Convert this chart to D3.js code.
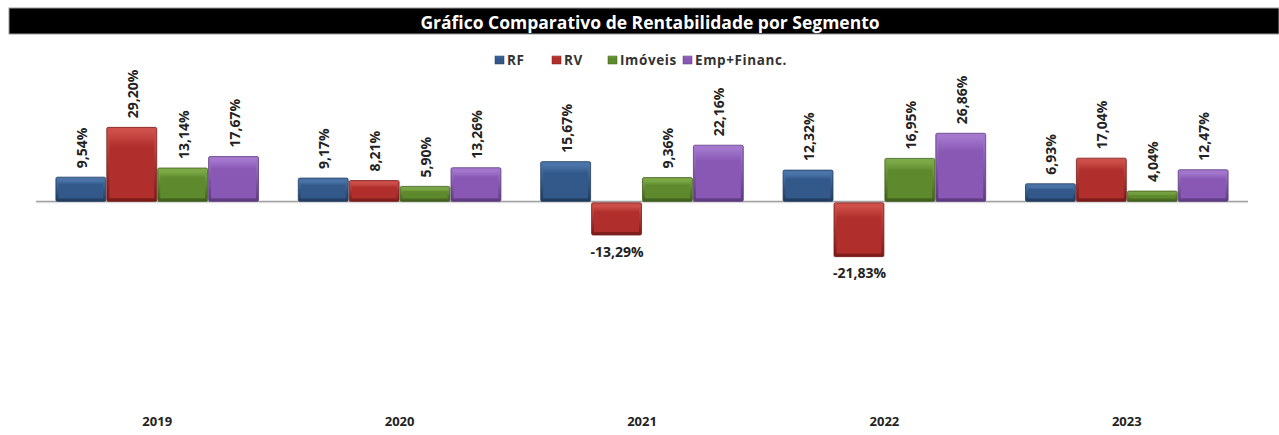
<!DOCTYPE html>
<html>
<head>
<meta charset="utf-8">
<script src="https://cdn.jsdelivr.net/npm/d3@7"></script>
<style>
  body { margin: 0; background: #fff; }
  svg { display: block; font-family: "Open Sans", "DejaVu Sans", sans-serif; }
</style>
</head>
<body>
<div id="chart"></div>
<script>
'use strict';

const title = 'Gráfico Comparativo de Rentabilidade por Segmento';
const years = ['2019', '2020', '2021', '2022', '2023'];
const series = ['RF', 'RV', 'Imóveis', 'Emp+Financ.'];
const rf = [9.54, 9.17, 15.67, 12.32, 6.93];
const rv = [29.20, 8.21, -13.29, -21.83, 17.04];
const imoveis = [13.14, 5.90, 9.36, 16.95, 4.04];
const emp = [17.67, 13.26, 22.16, 26.86, 12.47];
const values = [rf, rv, imoveis, emp];

const colors = [
    { base: '#33598a', light: '#4d78ad', dark: '#1f3b5e' },
    { base: '#b02e2c', light: '#d0524c', dark: '#7a1a19' },
    { base: '#5e8a2d', light: '#80ad4a', dark: '#3e5e1a' },
    { base: '#8858b4', light: '#a67ad0', dark: '#5d3a80' }
];

const dim = {
    width: 1279,
    height: 435,
    left: 36,
    right: 1248,
    top: 100,
    bottom: 404
};

let svg = d3.select('#chart')
    .append('svg')
    .attr('width', dim.width)
    .attr('height', dim.height);

let defs = svg.append('defs');
colors.forEach(function(c, i) {
    let g = defs.append('linearGradient')
        .attr('id', 'grad' + i)
        .attr('x1', 0).attr('y1', 0).attr('x2', 0).attr('y2', 1);
    g.append('stop').attr('offset', '0%').attr('stop-color', c.light);
    g.append('stop').attr('offset', '25%').attr('stop-color', c.base);
    g.append('stop').attr('offset', '100%').attr('stop-color', c.base);
    let h = defs.append('linearGradient')
        .attr('id', 'edge' + i)
        .attr('x1', 0).attr('y1', 0).attr('x2', 0).attr('y2', 1);
    h.append('stop').attr('offset', '0%').attr('stop-color', c.light);
    h.append('stop').attr('offset', '100%').attr('stop-color', c.dark);
});

// Title bar
svg.append('rect')
    .attr('x', 9).attr('y', 8)
    .attr('width', dim.width - 9).attr('height', 26)
    .attr('fill', '#000')
    .attr('stroke', '#999')
    .attr('stroke-width', 1);

svg.append('text')
    .attr('x', 650).attr('y', 22)
    .attr('text-anchor', 'middle')
    .attr('dominant-baseline', 'central')
    .attr('fill', '#fff')
    .attr('font-size', 17.5)
    .attr('font-weight', 'bold')
    .text(title);

// Legend
const legendX = [495, 552, 608, 683];
let legend = svg.append('g').attr('class', 'legend');
series.forEach(function(s, i) {
    legend.append('rect')
        .attr('x', legendX[i]).attr('y', 56)
        .attr('width', 9).attr('height', 8)
        .attr('fill', 'url(#grad' + i + ')')
        .attr('stroke', colors[i].dark)
        .attr('stroke-width', 0.5);
    legend.append('text')
        .attr('x', legendX[i] + 12).attr('y', 60)
        .attr('dominant-baseline', 'central')
        .attr('font-size', 13.5)
        .attr('font-weight', 'bold')
        .attr('letter-spacing', 0.6)
        .attr('fill', '#333')
        .text(s);
});

const xScale = d3.scaleBand()
    .range([dim.left, dim.right])
    .domain(years)
    .paddingInner(0.16)
    .paddingOuter(0.08);

const xInner = d3.scaleBand()
    .range([0, xScale.bandwidth()])
    .domain(series)
    .padding(0);

const yScale = d3.scaleLinear()
    .range([dim.bottom, dim.top])
    .domain([-80, 40]);

// Axis line
svg.append('line')
    .attr('x1', dim.left).attr('x2', dim.right)
    .attr('y1', yScale(0) + 1).attr('y2', yScale(0) + 1)
    .attr('stroke', '#ddd')
    .attr('stroke-width', 2);
svg.append('line')
    .attr('x1', dim.left).attr('x2', dim.right)
    .attr('y1', yScale(0)).attr('y2', yScale(0))
    .attr('stroke', '#a0a0a0')
    .attr('stroke-width', 1.3);

// Flatten data
let dataset = [];
years.forEach(function(yr, j) {
    series.forEach(function(s, i) {
        dataset.push({ year: yr, name: s, idx: i, value: values[i][j] });
    });
});

let bars = svg.selectAll('.bar')
    .data(dataset)
    .enter()
    .append('g')
    .attr('class', 'bar')
    .attr('transform', (d) => 'translate(' + (xScale(d.year) + xInner(d.name)) + ',0)');

const bw = xInner.bandwidth() - 1;
const barTop = (d) => Math.min(yScale(d.value), yScale(0) + 1.5);
const barHgt = (d) => d.value >= 0 ? yScale(0) - yScale(d.value) : yScale(d.value) - yScale(0) - 1.5;

// outer bevel
bars.append('rect')
    .attr('x', 0.5)
    .attr('y', barTop)
    .attr('width', bw)
    .attr('height', barHgt)
    .attr('rx', 1.5)
    .attr('fill', (d) => 'url(#edge' + d.idx + ')')
    .attr('stroke', (d) => colors[d.idx].dark)
    .attr('stroke-width', 0.8);

// inner face
bars.append('rect')
    .attr('x', 3)
    .attr('y', (d) => barTop(d) + 3)
    .attr('width', bw - 5)
    .attr('height', (d) => Math.max(0, barHgt(d) - 6))
    .attr('fill', (d) => 'url(#grad' + d.idx + ')');

// value labels
bars.filter((d) => d.value >= 0)
    .append('text')
    .attr('transform', (d) => 'translate(' + (bw / 2 + 1) + ',' + (yScale(d.value) - 9) + ') rotate(-90)')
    .attr('dominant-baseline', 'central')
    .attr('font-size', 14)
    .attr('font-weight', 'bold')
    .attr('fill', '#222')
    .text((d) => d.value.toFixed(2).replace('.', ',') + '%');

bars.filter((d) => d.value < 0)
    .append('text')
    .attr('x', bw / 2 + 1)
    .attr('y', (d) => yScale(d.value) + 16)
    .attr('text-anchor', 'middle')
    .attr('dominant-baseline', 'central')
    .attr('font-size', 14)
    .attr('font-weight', 'bold')
    .attr('fill', '#222')
    .text((d) => d.value.toFixed(2).replace('.', ',') + '%');

// Year labels
svg.selectAll('.year')
    .data(years)
    .enter()
    .append('text')
    .attr('class', 'year')
    .attr('x', (d) => xScale(d) + xScale.bandwidth() / 2)
    .attr('y', 421)
    .attr('text-anchor', 'middle')
    .attr('dominant-baseline', 'central')
    .attr('font-size', 13)
    .attr('font-weight', 'bold')
    .attr('fill', '#222')
    .text((d) => d);
</script>
</body>
</html>
